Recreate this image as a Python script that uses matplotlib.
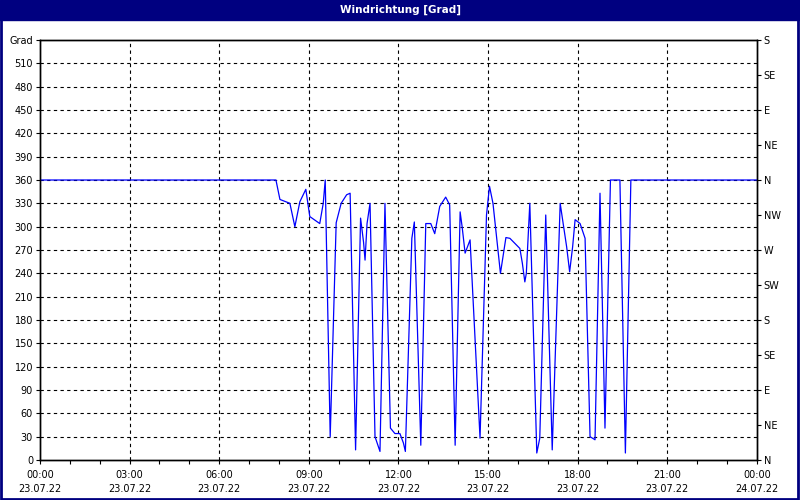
import matplotlib
matplotlib.use("Agg")
import matplotlib.pyplot as plt
from matplotlib.patches import Rectangle

title = "Windrichtung [Grad]"
times = ["00:00", "07:54", "08:02", "08:22", "08:32", "08:42", "08:54", "09:02", "09:22",
         "09:29", "09:33", "09:43", "09:55", "10:05", "10:16", "10:23", "10:34", "10:44",
         "10:50", "10:53", "10:57", "11:03", "11:13", "11:23", "11:33", "11:44", "11:53",
         "12:03", "12:10", "12:14", "12:27", "12:32", "12:45", "12:55", "13:05", "13:13",
         "13:23", "13:35", "13:43", "13:54", "14:04", "14:08", "14:14", "14:24", "14:44",
         "14:57", "15:03", "15:10", "15:25", "15:36", "15:44", "16:04", "16:09", "16:14",
         "16:17", "16:24", "16:38", "16:44", "16:56", "17:09", "17:25", "17:31", "17:38",
         "17:44", "17:50", "17:55", "18:05", "18:15", "18:25", "18:35", "18:45", "18:55",
         "19:06", "19:25", "19:36", "19:47", "24:00"]
degrees = [360, 360, 335, 330, 300, 332, 348, 313, 304,
           330, 360, 30, 305, 330, 341, 343, 13, 311,
           280, 257, 304, 330, 30, 11, 330, 41, 34,
           34, 22, 11, 285, 306, 19, 304, 304, 291,
           326, 338, 328, 19, 319, 300, 266, 283, 28,
           315, 352, 330, 240, 286, 285, 272, 253, 229,
           240, 330, 9, 28, 315, 13, 330, 304, 274,
           242, 274, 309, 304, 285, 30, 26, 343, 41,
           360, 360, 9, 360, 360]
x_major = ["00:00", "03:00", "06:00", "09:00", "12:00", "15:00", "18:00", "21:00", "00:00"]
x_dates = ["23.07.22"] * 8 + ["24.07.22"]
left_ticks = list(range(0, 541, 30))
compass = ["N", "NE", "E", "SE", "S", "SW", "W", "NW", "N", "NE", "E", "SE", "S"]
compass_vals = list(range(0, 541, 45))

def to_h(s):
    h, m = s.split(":")
    return int(h) + int(m) / 60.0

xs = [to_h(t) for t in times]
navy = "#000080"
fs = 7

fig = plt.figure(figsize=(8, 5), dpi=100)
fig.patch.set_facecolor("white")
# title bar and border
fig.add_artist(Rectangle((0, 0.96), 1, 0.04, transform=fig.transFigure, color=navy, zorder=0))
fig.add_artist(Rectangle((0.001, 0.002), 0.997, 0.996, transform=fig.transFigure, fill=False,
                         edgecolor=navy, linewidth=2, zorder=5))
fig.text(0.5, 0.981, title, color="white", fontweight="bold", fontsize=7.5,
         ha="center", va="center")

ax = fig.add_axes([0.05, 0.08, 0.896, 0.84])
ax.plot(xs, degrees, color="#0000FF", linewidth=0.9, zorder=3)
ax.set_xlim(0, 24)
ax.set_ylim(0, 540)

ax.set_xticks([i * 3 for i in range(9)])
ax.set_xticklabels([f"{a}\n{b}" for a, b in zip(x_major, x_dates)], fontsize=fs, linespacing=1.55)
ax.set_xticks(range(25), minor=True)
ax.tick_params(axis="x", which="both", direction="out", length=3, width=0.8, pad=4)

ax.set_yticks(left_ticks)
ax.set_yticklabels([str(v) if v < 540 else "Grad" for v in left_ticks], fontsize=fs)
ax.tick_params(axis="y", direction="out", length=3, width=0.8, pad=2)

for v in left_ticks[1:-1]:
    ax.axhline(v, color="black", linestyle=(0, (3, 3)), linewidth=0.8, zorder=1)
for v in range(3, 24, 3):
    ax.axvline(v, color="black", linestyle=(0, (3, 3)), linewidth=0.8, zorder=1)

ax2 = ax.twinx()
ax2.set_ylim(0, 540)
ax2.set_yticks(compass_vals)
ax2.set_yticklabels(compass, fontsize=fs)
ax2.tick_params(axis="y", direction="out", length=3, width=0.8, pad=2)

for a in (ax, ax2):
    for sp in a.spines.values():
        sp.set_color("black")
        sp.set_linewidth(1.0)

fig.savefig("out.png", dpi=100)
